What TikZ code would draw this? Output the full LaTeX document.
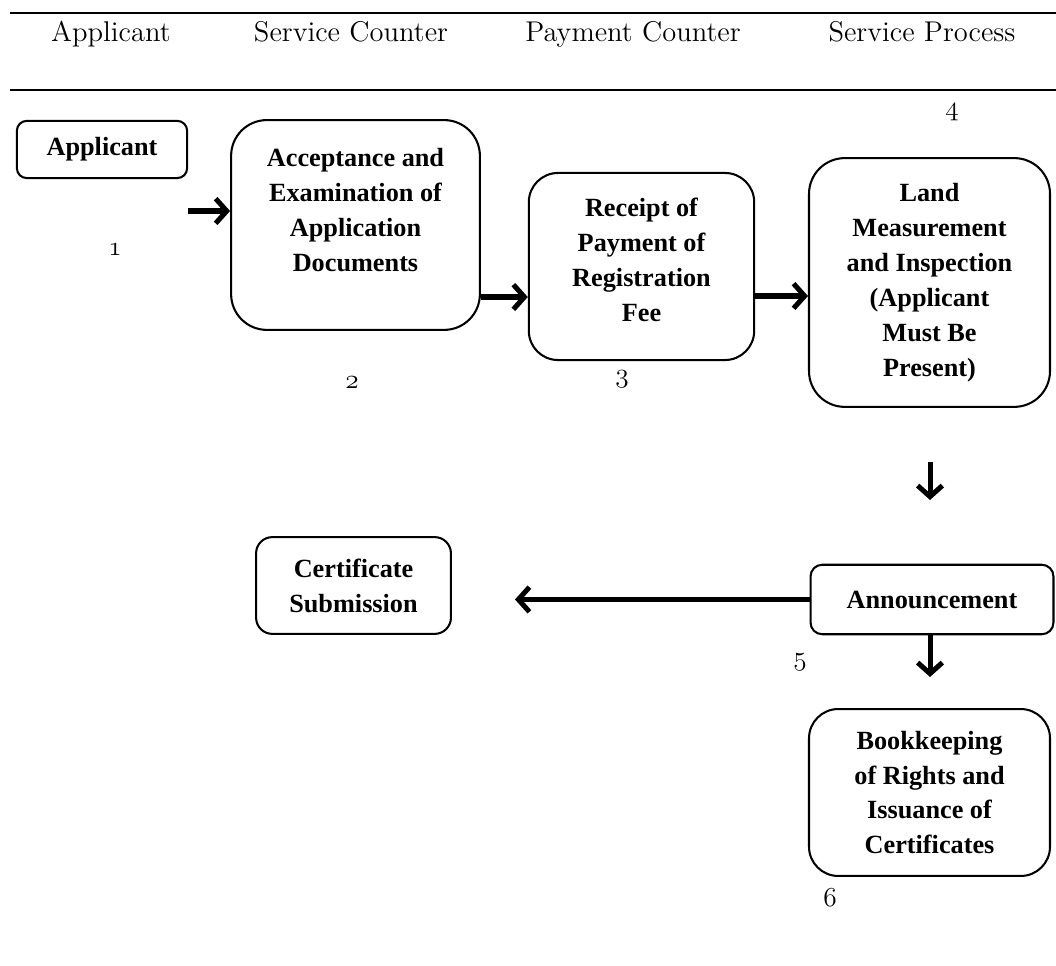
\documentclass[tikz,border=0pt]{standalone}
\usepackage{fontspec}
\newfontfamily\boxfont{Liberation Serif}
\usepackage{tikz}
\usetikzlibrary{positioning}
\usetikzlibrary{calc}
\usetikzlibrary{arrows.meta}
\newcommand{\osn}[1]{{\usefont{OML}{cmm}{m}{it}#1}}

\tikzset{
  stage/.style={draw, line width=0.9pt, align=center, inner sep=0pt,
    font=\boxfont\bfseries\fontsize{11.5}{15.3}\selectfont},
  stagetext/.style={align=center, inner sep=0pt,
    font=\boxfont\bfseries\fontsize{11.5}{15.3}\selectfont},
  flow/.style={line width=2.2pt, -{Straight Barb[length=1.7mm,width=3.8mm]}},
  lane/.style={anchor=base, font=\fontsize{12.5}{15}\selectfont},
  num/.style={font=\fontsize{12.5}{15}\selectfont, inner sep=0pt},
  rule/.style={line width=1.3pt}
}

\begin{document}
\begin{tikzpicture}[x=0.0154cm, y=-0.0154cm]
\useasboundingbox (0,0) rectangle (1056,966);

\draw[rule] (10,13) -- (1056,13);
\draw[rule] (10,90) -- (1056,90);
\node[lane] (h1) at (111,42) {Applicant};
\node[lane] (h2) at (351,42) {Service Counter};
\node[lane] (h3) at (633,42) {Payment Counter};
\node[lane] (h4) at (922,42) {Service Process};

\node[stage, minimum width=2.62cm, minimum height=0.88cm, rounded corners=0.15cm] (app) at (102,149.5) {Applicant};
\node[stage, minimum width=3.83cm, minimum height=3.23cm, rounded corners=0.55cm] (acc) at (355.5,225) {};
\node[stagetext] (acctxt) at (355.5,210) {Acceptance and\\Examination of\\Application\\Documents};
\node[stage, minimum width=3.47cm, minimum height=2.88cm, rounded corners=0.45cm] (rcp) at (641.5,266.5) {};
\node[stagetext] (rcptxt) at (641.5,260) {Receipt of\\Payment of\\Registration\\Fee};
\node[stage, minimum width=3.71cm, minimum height=3.83cm, rounded corners=0.55cm] (land) at (929.5,282.5) {Land\\Measurement\\and Inspection\\(Applicant\\Must Be\\Present)};
\node[stage, minimum width=3.74cm, minimum height=1.07cm, rounded corners=0.18cm] (ann) at (932,599.5) {Announcement};
\node[stage, minimum width=3.00cm, minimum height=1.49cm, rounded corners=0.25cm] (cert) at (353.5,585.5) {Certificate\\Submission};
\node[stage, minimum width=3.71cm, minimum height=2.57cm, rounded corners=0.45cm] (book) at (929.5,792.5) {Bookkeeping\\of Rights and\\Issuance of\\Certificates};

\node[num] (n1) at (115,250) {\osn{1}};
\node[num] (n2) at (352,383) {\osn{2}};
\node[num] (n3) at (622,379) {\osn{3}};
\node[num] (n4) at (952,112) {\osn{4}};
\node[num] (n5) at (800,662) {\osn{5}};
\node[num] (n6) at (830,898) {\osn{6}};

\coordinate (s1) at (188,211);
\coordinate (y2) at (0,297);
\coordinate (y3) at (0,296);
\coordinate (s4) at (930,462);
\coordinate (e4) at (930,500);
\coordinate (e5) at (515,600);
\coordinate (e6) at (930,677);

\draw[flow] (s1) -- (s1 -| acc.west);
\draw[flow] (acc.east |- y2) -- (rcp.west |- y2);
\draw[flow] (rcp.east |- y3) -- (land.west |- y3);
\draw[flow] (s4) -- (e4);
\draw[flow] (ann.west) -- (ann.west -| e5);
\draw[flow] (ann.south -| e6) -- (e6);
\end{tikzpicture}
\end{document}
